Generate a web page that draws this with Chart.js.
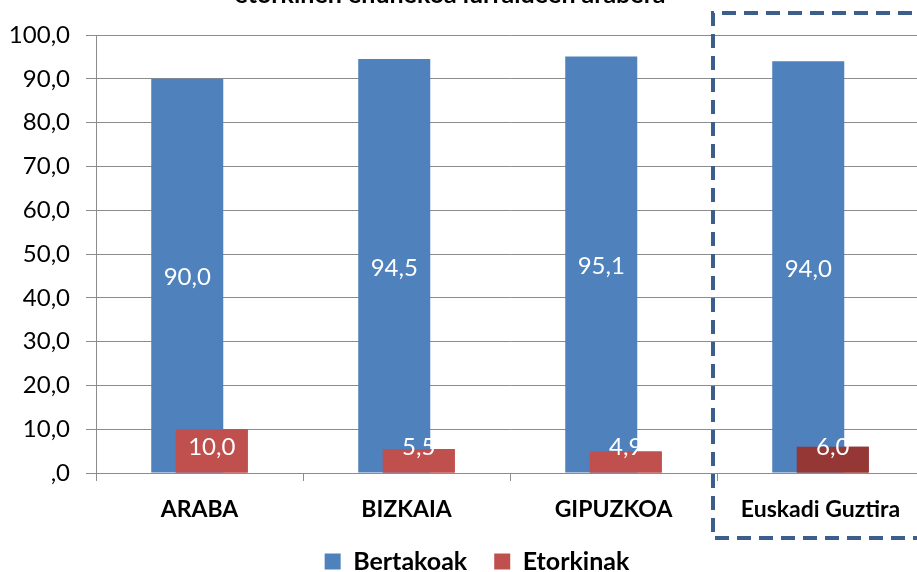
<!DOCTYPE html>
<html><head><meta charset="utf-8">
<script src="https://cdn.jsdelivr.net/npm/chart.js@4/dist/chart.umd.min.js"></script>
<style>
html,body{margin:0;padding:0;overflow:hidden;background:#fff;width:917px;height:572px}
canvas{display:block}
</style>
</head><body>
<canvas id="c" width="924" height="572"></canvas>
<script>
const titleText = "etorkinen ehunekoa lurraldeen arabera";
const categories = ["ARABA", "BIZKAIA", "GIPUZKOA", "Euskadi Guztira"];
const seriesNames = ["Bertakoak", "Etorkinak"];
const bertakoak = [90.0, 94.5, 95.1, 94.0];
const etorkinak = [10.0, 5.5, 4.9, 6.0];
const yMin = 0, yMax = 100, yStep = 10;

const BLUE = "#4F81BD", RED = "#C0504D", DARKRED = "#953735";
const FONT = "Lato, 'Open Sans', sans-serif";
const fmt = v => { const s = v.toFixed(1).replace('.', ','); return s.startsWith('0,') ? s.slice(1) : s; };

const H = 572, PLOT_BOTTOM = 473, PAD_B = -12, LEGEND_SHIFT = 15;

const labelsPlugin = {
  id: 'valueLabels',
  afterLayout(chart) {
    if (chart.legend) { chart.legend.left += LEGEND_SHIFT; chart.legend.right += LEGEND_SHIFT; }
  },
  afterDatasetsDraw(chart) {
    // draw the second series over the first (overlapping bars)
    chart.getDatasetMeta(1).controller.draw();
    const ctx = chart.ctx;
    ctx.save();
    ctx.fillStyle = '#fff';
    ctx.font = '24px ' + FONT;
    ctx.textAlign = 'center';
    ctx.textBaseline = 'middle';
    chart.data.datasets.forEach((ds, di) => {
      const meta = chart.getDatasetMeta(di);
      meta.data.forEach((bar, i) => {
        let cy = (bar.y + bar.base) / 2 + 2;
        if (di === 1) cy = Math.min(cy, bar.base - 25);
        ctx.fillText(fmt(ds.data[i]), bar.x, cy);
      });
    });
    ctx.restore();
  }
};

const decorPlugin = {
  id: 'decor',
  afterDraw(chart) {
    const ctx = chart.ctx, x = chart.scales.x, a = chart.chartArea;
    ctx.save();
    ctx.fillStyle = '#000';
    ctx.font = 'bold 25px ' + FONT;
    ctx.textAlign = 'center';
    ctx.textBaseline = 'alphabetic';
    ctx.fillText(titleText, 450, 3);
    const left = (x.getPixelForValue(2) + x.getPixelForValue(3)) / 2 - 4;
    const top = a.top - 22, bottom = a.bottom + 65;
    ctx.strokeStyle = '#3B5E8C';
    ctx.lineWidth = 4;
    ctx.setLineDash([14, 8]);
    ctx.beginPath();
    ctx.moveTo(chart.width + 10, top);
    ctx.lineTo(left, top);
    ctx.lineTo(left, bottom);
    ctx.lineTo(chart.width + 10, bottom);
    ctx.stroke();
    ctx.restore();
  }
};

new Chart(document.getElementById('c'), {
  type: 'bar',
  data: {
    labels: categories,
    datasets: [
      { label: seriesNames[0], data: bertakoak, backgroundColor: BLUE,
        categoryPercentage: 0.2367, barPercentage: 2.94 },
      { label: seriesNames[1], data: etorkinak,
        backgroundColor: c => c.dataIndex === 3 ? DARKRED : RED,
        categoryPercentage: 0.2367, barPercentage: 2.94 }
    ]
  },
  options: {
    responsive: false,
    animation: false,
    devicePixelRatio: 1,
    layout: { padding: { top: 35, left: 0, right: 0, bottom: PAD_B } },
    plugins: {
      legend: {
        position: 'bottom',
        labels: {
          boxWidth: 16, boxHeight: 16, padding: 27, color: '#000',
          font: { family: FONT, size: 25, weight: 'bold' }
        }
      },
      tooltip: { enabled: false },
      title: { display: false }
    },
    scales: {
      y: {
        min: yMin, max: yMax,
        ticks: { stepSize: yStep, padding: 16, color: '#000',
          font: { family: FONT, size: 24 }, callback: v => fmt(v) },
        grid: { color: '#8C8C8C', tickLength: 10, lineWidth: 1 },
        border: { color: '#8C8C8C' },
        afterFit: s => { s.width = 96; }
      },
      x: {
        ticks: { padding: 15, color: '#000', font: { family: FONT, size: 23, weight: 'bold' } },
        grid: { offset: true, drawOnChartArea: false, tickLength: 8, color: '#8C8C8C' },
        border: { color: '#8C8C8C' },
        afterFit: s => { s.height = H - PAD_B - PLOT_BOTTOM - (s.chart.legend ? s.chart.legend.height : 0); }
      }
    }
  },
  plugins: [labelsPlugin, decorPlugin]
});
</script>
</body></html>
